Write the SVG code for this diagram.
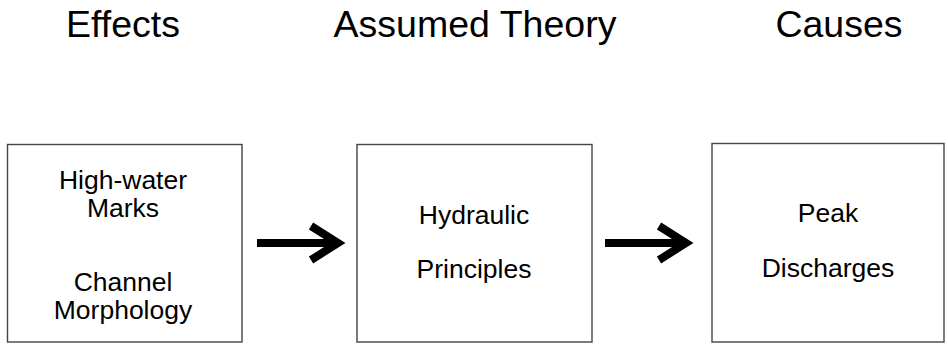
<svg xmlns="http://www.w3.org/2000/svg" width="948" height="344" viewBox="0 0 948 344">
<style>
.title{font-family:"Liberation Sans",Arial,sans-serif;font-size:37.5px;fill:#000;text-anchor:middle}
.lbl{font-family:"Liberation Sans",Arial,sans-serif;font-size:26.5px;fill:#000;text-anchor:middle}
.box{fill:#fff;stroke:#444;stroke-width:1.4}
.arr{fill:none;stroke:#000;stroke-width:8}
</style>
<rect width="948" height="344" fill="#fff"/>
<g id="titles">
<text class="title" x="123" y="37">Effects</text>
<text class="title" x="475" y="37">Assumed Theory</text>
<text class="title" x="839" y="37">Causes</text>
</g>
<g id="effects">
<rect class="box" x="7.5" y="144.5" width="234.5" height="197.5"/>
<text class="lbl" x="123" y="189">High-water</text>
<text class="lbl" x="123" y="217">Marks</text>
<text class="lbl" x="123" y="291">Channel</text>
<text class="lbl" x="123" y="319">Morphology</text>
</g>
<g id="theory">
<rect class="box" x="357" y="144.5" width="235" height="197.5"/>
<text class="lbl" x="474" y="224">Hydraulic</text>
<text class="lbl" x="474" y="278">Principles</text>
</g>
<g id="causes">
<rect class="box" x="712" y="143.5" width="232" height="198.5"/>
<text class="lbl" x="828" y="222">Peak</text>
<text class="lbl" x="828" y="277">Discharges</text>
</g>
<g id="connectors">
<path class="arr" d="M257 243 H337"/>
<path class="arr" d="M311 226 L338 243 L311 260" stroke-miterlimit="10"/>
<path class="arr" d="M605 243 H685"/>
<path class="arr" d="M659 226 L686 243 L659 260" stroke-miterlimit="10"/>
</g>
</svg>
